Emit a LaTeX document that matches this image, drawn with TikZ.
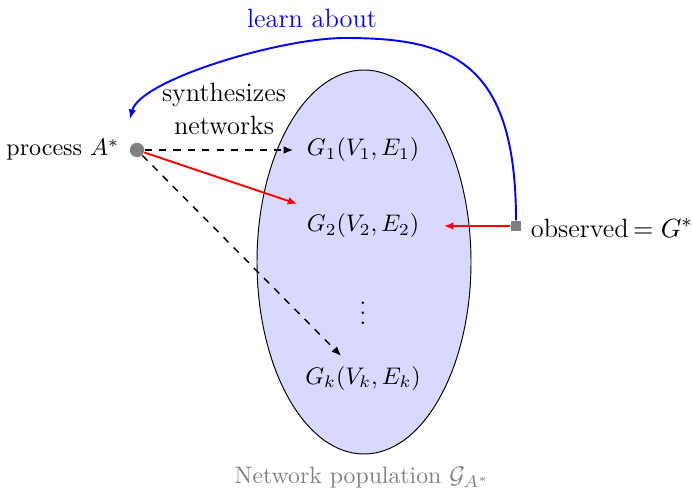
\documentclass[tikz,border=0pt]{standalone}
\usetikzlibrary{arrows.meta}
\begin{document}
\begin{tikzpicture}[x=0.4167pt,y=-0.4167pt,
  gnode/.style={inner xsep=5.5pt,inner ysep=4pt},
  tip/.style={-{Latex[length=4pt,width=3.2pt]}},
  lbl/.style={font=\fontsize{11}{13.5}\selectfont,align=center}]
\useasboundingbox (0,0) rectangle (692,494);
\draw[fill=blue!15] (364,262) ellipse [x radius=107, y radius=192];
\node[circle,fill=gray,inner sep=0pt,minimum size=6pt] (A) at (137,150) {};
\node[anchor=east,inner sep=1pt] (Alab) at (122,150) {process $A^*$};
\node[lbl] (syn) at (224,109) {synthesizes\\networks};
\node[gnode] (G1) at (363,150) {$G_1(V_1,E_1)$};
\node[gnode] (G2) at (363,226) {$G_2(V_2,E_2)$};
\node (dots) at (363,306) {$\vdots$};
\node[gnode] (Gk) at (363,378) {$G_k(V_k,E_k)$};
\node[rectangle,fill=gray,inner sep=0pt,minimum size=4.2pt] (O) at (516,226) {};
\node[anchor=west,lbl,inner sep=1pt] (Olab) at (528,228) {observed$\,=G^*$};
\node[lbl,text=blue] (learn) at (312,18) {learn about};
\node[text=gray,font=\fontsize{9.9}{11.5}\selectfont] (pop) at (362,478) {Network population $\mathcal{G}_{A^*}$};
\coordinate (Aend) at (130,119);
\draw[tip,dashed,semithick] (A) -- (G1);
\draw[tip,red,thick] (A) -- (G2);
\draw[tip,dashed,semithick] (A) -- (Gk);
\draw[tip,red,thick,shorten >=11pt*0.4167] (O) -- (G2);
\draw[tip,blue,thick] (O.north) .. controls (516,60) and (450,38) .. (345,38)
  .. controls (280,38) and (140,80) .. (Aend);
\end{tikzpicture}
\end{document}
